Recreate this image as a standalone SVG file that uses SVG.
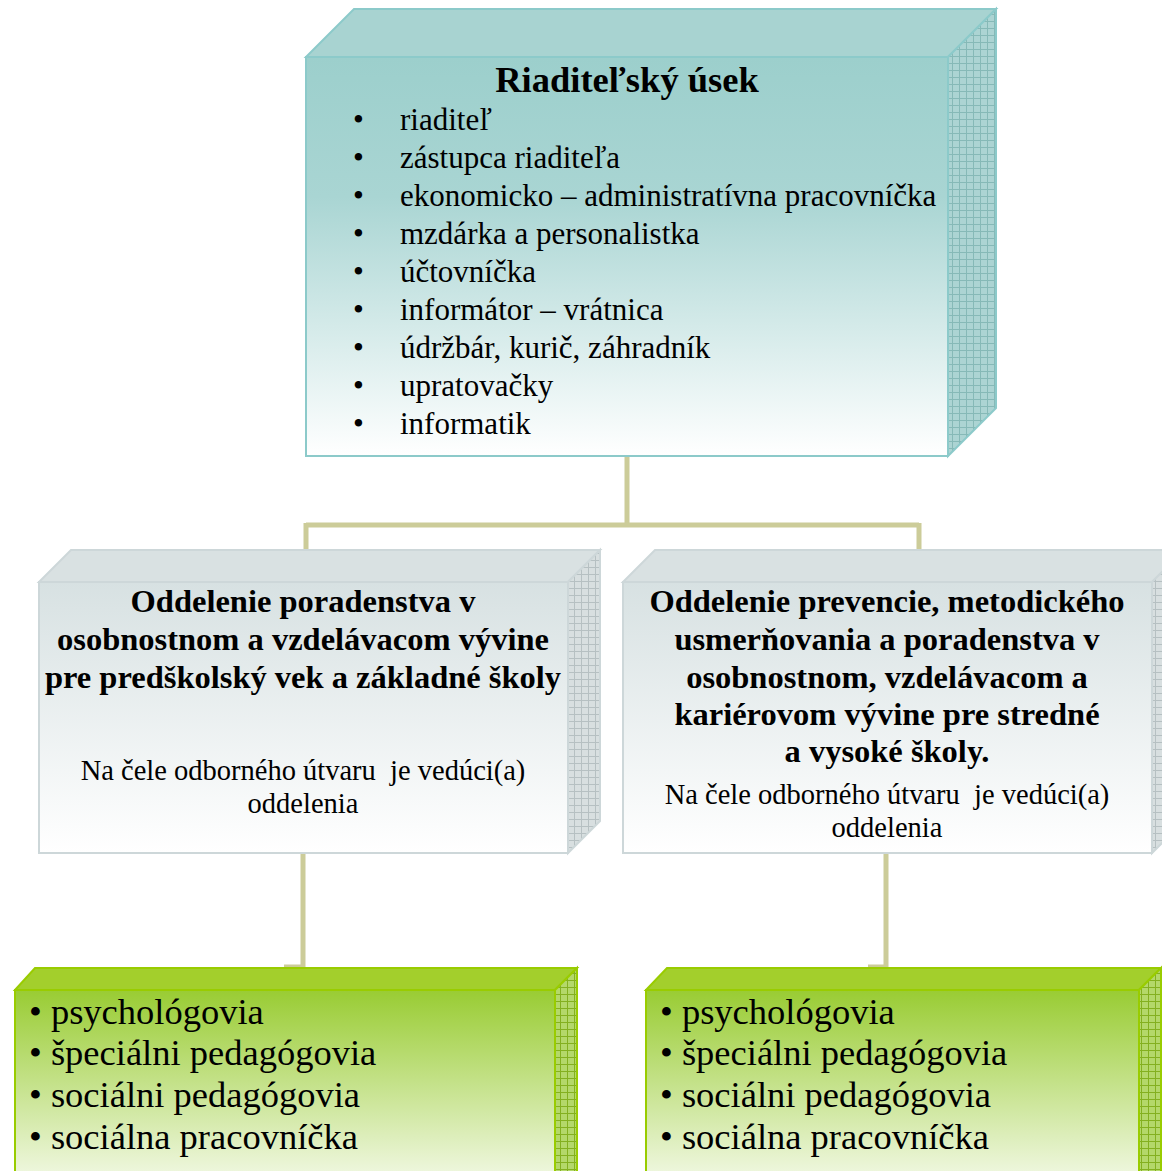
<svg xmlns="http://www.w3.org/2000/svg" width="1162" height="1171" viewBox="0 0 1162 1171">
<defs>
<linearGradient id="gTeal" x1="0" y1="0" x2="0" y2="1"><stop offset="0" stop-color="#9ccfcc"/><stop offset="0.35" stop-color="#a9d5d3"/><stop offset="1" stop-color="#ffffff"/></linearGradient>
<linearGradient id="gGray" x1="0" y1="0" x2="0" y2="1"><stop offset="0" stop-color="#d7e1e2"/><stop offset="1" stop-color="#ffffff"/></linearGradient>
<linearGradient id="gGreen" x1="0" y1="0" x2="0" y2="1"><stop offset="0" stop-color="#99cc33"/><stop offset="1" stop-color="#ffffff"/></linearGradient>
<pattern id="pTeal" width="7" height="7" patternUnits="userSpaceOnUse"><rect width="7" height="7" fill="#acd4d3"/><path d="M0 0.5H7M0.5 0V7" stroke="#86b9b7" stroke-width="1"/></pattern>
<pattern id="pGray" width="7" height="7" patternUnits="userSpaceOnUse"><rect width="7" height="7" fill="#d8dfe0"/><path d="M0 0.5H7M0.5 0V7" stroke="#b6c0c2" stroke-width="1"/></pattern>
<pattern id="pGreen" width="7" height="7" patternUnits="userSpaceOnUse"><rect width="7" height="7" fill="#b4d86a"/><path d="M0 0.5H7M0.5 0V7" stroke="#84b020" stroke-width="1"/></pattern>
</defs>
<style>
.t{font-family:"Liberation Serif","Times New Roman",serif;fill:#000}
.b{font-weight:bold}
.teal{stroke:#8ccaca;stroke-width:2}
.gray{stroke:#cdd7d9;stroke-width:2}
.green{stroke:#99cc00;stroke-width:2}
.conn{fill:none;stroke:#cccc99;stroke-width:5}
</style>
<g id="connectors">
<path class="conn" d="M627 456V525M306 525H919M306 523V550M919 523V550"/>
<path class="conn" d="M303 853V967H284M886 853V967H868"/>
</g>
<g id="node-riaditel">
<polygon class="teal" points="306,57 354,9 996,9 948,57" fill="#a8d3d1"/>
<polygon class="teal" points="948,57 996,9 996,408 948,456" fill="url(#pTeal)"/>
<rect class="teal" x="306" y="57" width="642" height="399" fill="url(#gTeal)"/>
<text class="t b" x="627" y="92" font-size="36.5" text-anchor="middle">Riaditeľský úsek</text>
<g class="t" font-size="31">
<text x="353" y="130">•</text><text x="400" y="130">riaditeľ</text>
<text x="353" y="168">•</text><text x="400" y="168">zástupca riaditeľa</text>
<text x="353" y="206">•</text><text x="400" y="206">ekonomicko – administratívna pracovníčka</text>
<text x="353" y="244">•</text><text x="400" y="244">mzdárka a personalistka</text>
<text x="353" y="282">•</text><text x="400" y="282">účtovníčka</text>
<text x="353" y="320">•</text><text x="400" y="320">informátor – vrátnica</text>
<text x="353" y="358">•</text><text x="400" y="358">údržbár, kurič, záhradník</text>
<text x="353" y="396">•</text><text x="400" y="396">upratovačky</text>
<text x="353" y="434">•</text><text x="400" y="434">informatik</text>
</g>
</g>
<g id="node-oddelenie-1">
<polygon class="gray" points="39,582 71,550 600,550 568,582" fill="#d9e1e2"/>
<polygon class="gray" points="568,582 600,550 600,821 568,853" fill="url(#pGray)"/>
<rect class="gray" x="39" y="582" width="529" height="271" fill="url(#gGray)"/>
<g class="t b" font-size="32.5" text-anchor="middle">
<text x="303" y="612">Oddelenie poradenstva v</text>
<text x="303" y="650">osobnostnom a vzdelávacom vývine</text>
<text x="303" y="688">pre predškolský vek a základné školy</text>
</g>
<g class="t" font-size="28.5" text-anchor="middle">
<text x="303" y="780" xml:space="preserve">Na čele odborného útvaru  je vedúci(a)</text>
<text x="303" y="813">oddelenia</text>
</g>
</g>
<g id="node-oddelenie-2">
<polygon class="gray" points="623,582 655,550 1184,550 1152,582" fill="#d9e1e2"/>
<polygon class="gray" points="1152,582 1184,550 1184,821 1152,853" fill="url(#pGray)"/>
<rect class="gray" x="623" y="582" width="529" height="271" fill="url(#gGray)"/>
<g class="t b" font-size="32.5" text-anchor="middle">
<text x="887" y="612">Oddelenie prevencie, metodického</text>
<text x="887" y="650">usmerňovania a poradenstva v</text>
<text x="887" y="688">osobnostnom, vzdelávacom a</text>
<text x="887" y="725">kariérovom vývine pre stredné</text>
<text x="887" y="762">a vysoké školy.</text>
</g>
<g class="t" font-size="28.5" text-anchor="middle">
<text x="887" y="804" xml:space="preserve">Na čele odborného útvaru  je vedúci(a)</text>
<text x="887" y="837">oddelenia</text>
</g>
</g>
<g id="node-tim-1">
<polygon class="green" points="15,990 35,968 577,968 555,990" fill="#a3cf2c"/>
<polygon class="green" points="555,990 577,968 577,1190 555,1212" fill="url(#pGreen)"/>
<rect class="green" x="15" y="990" width="540" height="220" fill="url(#gGreen)"/>
<g class="t" font-size="36.5">
<text x="29" y="1024">• psychológovia</text>
<text x="29" y="1065">• špeciálni pedagógovia</text>
<text x="29" y="1107">• sociálni pedagógovia</text>
<text x="29" y="1149">• sociálna pracovníčka</text>
</g>
</g>
<g id="node-tim-2">
<polygon class="green" points="646,990 667,968 1161,968 1139,990" fill="#a3cf2c"/>
<polygon class="green" points="1139,990 1161,968 1161,1190 1139,1212" fill="url(#pGreen)"/>
<rect class="green" x="646" y="990" width="493" height="220" fill="url(#gGreen)"/>
<g class="t" font-size="36.5">
<text x="660" y="1024">• psychológovia</text>
<text x="660" y="1065">• špeciálni pedagógovia</text>
<text x="660" y="1107">• sociálni pedagógovia</text>
<text x="660" y="1149">• sociálna pracovníčka</text>
</g>
</g>
</svg>
